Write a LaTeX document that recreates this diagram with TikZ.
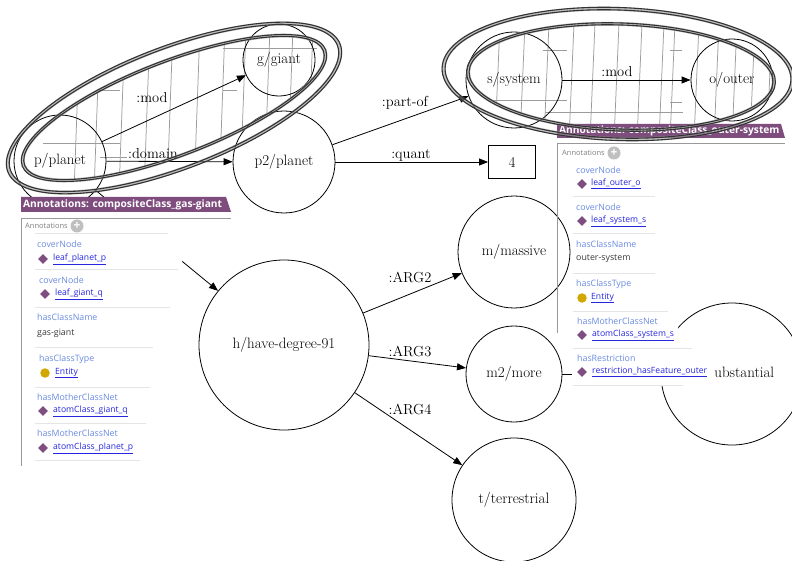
\documentclass[tikz,border=0pt]{standalone}
\usepackage{fontspec}
\newfontfamily\uifont{Open Sans}
\usetikzlibrary{arrows.meta,shapes.geometric}
\definecolor{hdr}{HTML}{7F4C7E}
\definecolor{prop}{HTML}{6A8BE2}
\definecolor{lnk}{HTML}{2626E0}
\definecolor{valc}{HTML}{3A3A3A}
\definecolor{diac}{HTML}{7E4E80}
\definecolor{entc}{HTML}{D2A800}
\definecolor{hatchc}{HTML}{9C9C9C}
\begin{document}
\begin{tikzpicture}[x=1pt,y=-1pt,
  gnode/.style={circle, draw, line width=0.8pt, inner sep=0pt, font=\fontsize{15}{17}\selectfont},
  elabel/.style={inner sep=0pt, font=\fontsize{14.5}{16}\selectfont},
  edge/.style={-{Triangle[length=9pt,width=7pt]}, line width=0.8pt},
  hatch/.style={hatchc, line width=0.75pt},
  ringblur/.style={black!40, line width=4pt, opacity=0.6},
  ringline/.style={black!80, line width=1.1pt},
  ptitle/.style={anchor=west, inner sep=0pt, text=white, font=\uifont\bfseries\fontsize{10.2}{11}\selectfont},
  psmall/.style={anchor=west, inner sep=0pt, text=black!50, font=\uifont\fontsize{7.5}{8}\selectfont},
  pprop/.style={anchor=west, inner sep=0pt, text=prop, font=\uifont\fontsize{8.8}{10}\selectfont},
  plink/.style={anchor=west, inner sep=0pt, text=lnk, font=\uifont\fontsize{8.6}{10}\selectfont},
  pval/.style={anchor=west, inner sep=0pt, text=valc, font=\uifont\fontsize{8.8}{10}\selectfont},
  dia/.style={diamond, fill=diac, minimum size=10pt, inner sep=0pt},
  entdot/.style={circle, fill=entc, minimum size=9.5pt, inner sep=0pt},
  plus/.style={circle, fill=black!25, minimum size=13pt, inner sep=0pt, text=white, font=\uifont\bfseries\fontsize{12}{12}\selectfont},
  sep/.style={black!10, line width=1pt},
  pline/.style={black!40, line width=0.8pt}]
\useasboundingbox (0,0) rectangle (792,561);
\fill[white] (0,0) rectangle (792,561);

% ---- hatching inside the class groupings
\begin{scope}
  \clip[shift={(174,108)}, rotate=21] (0,0) ellipse [x radius=160pt, y radius=47pt];
  \foreach \xx in {77,97,122,147,170,197,222,243,267,290,310}
    \draw[hatch] (\xx+4,0) -- (\xx-4,220);
  \draw[hatch] (223,48) -- (317,48);
  \draw[hatch] (97,90) -- (120,90);
  \draw[hatch] (223,90) -- (237,90);
  \draw[hatch] (43,143) -- (120,143);
  \draw[hatch] (43,182) -- (100,182);
  \draw[hatch] (100,157) -- (127,157);
\end{scope}
\begin{scope}
  \clip[shift={(620,76)}, rotate=-2] (0,0) ellipse [x radius=152pt, y radius=52pt];
  \foreach \xx in {498,523,547,572,593,617,640,662,673,697,717,735,753,770}
    \draw[hatch] (\xx+3,0) -- (\xx-3,140);
  \draw[hatch] (543,50) -- (567,50);
  \draw[hatch] (670,50) -- (682,50);
  \draw[hatch] (493,100) -- (567,100);
  \draw[hatch] (670,102) -- (682,102);
  \draw[hatch] (545,112) -- (683,112);
\end{scope}

% ---- graph nodes
\node[gnode, minimum size=92pt] (p) at (60,161) {p/planet};
\node[gnode, minimum size=72pt] (g) at (279,60) {g/giant};
\node[gnode, minimum size=102pt] (p2) at (284,162) {p2/planet};
\node[draw, line width=0.8pt, minimum width=47pt, minimum height=33pt, font=\fontsize{15}{17}\selectfont] (four) at (512,162) {4};
\node[gnode, minimum size=96pt] (s) at (514,80) {s/system};
\node[gnode, minimum size=82pt] (o) at (732,80) {o/outer};
\node[gnode, minimum size=170pt] (h) at (284,345) {h/have-degree-91};
\node[gnode, minimum size=112pt] (m) at (514,252) {m/massive};
\node[gnode, minimum size=96pt] (m2) at (514,374) {m2/more};
\node[gnode, minimum size=124pt] (t) at (514,500) {t/terrestrial};
\node[gnode, minimum size=142pt] (sub) at (732,374) {s2/substantial};

% ---- connectors
\draw[edge] (p) -- (g);
\draw[edge] (p) -- (p2);
\draw[edge] (p) -- (h);
\draw[edge] (p2) -- (s);
\draw[edge] (p2) -- (four);
\draw[edge] (s) -- (o);
\draw[edge] (h) -- (m);
\draw[edge] (h) -- (m2);
\draw[edge] (h) -- (t);
\draw[edge] (m2) -- (sub);

\node[elabel] (lmod1) at (152,98) {:mod};
\node[elabel] (ldom) at (153,154) {:domain};
\node[elabel] (lpart) at (405,103) {:part-of};
\node[elabel] (lquant) at (411,155) {:quant};
\node[elabel] (lmod2) at (617,72) {:mod};
\node[elabel] (larg2) at (410,277) {:ARG2};
\node[elabel] (larg3) at (410,351) {:ARG3};
\node[elabel] (larg4) at (410,409) {:ARG4};

% ---- left annotation panel
\fill[white] (21,211) -- (231,211) -- (231,234) -- (182,234) -- (182,270) -- (178,270) -- (178,466) -- (21,466) -- cycle;
\fill[hdr] (21,197) -- (226,197) -- (231,212) -- (21,212) -- cycle;
\node[ptitle] (lt) at (23,204.5) {Annotations: compositeClass\_gas-giant};
\draw[pline] (21,218) -- (231,218);
\draw[pline] (21,218) -- (21,466);
\node[psmall] (lann) at (25,226) {Annotations};
\node[plus] (lplus) at (77,226) {+};
\draw[sep] (35,234) -- (168,234);
\node[pprop] (l1p) at (37,244) {coverNode};
\node[dia] (l1d) at (43,259) {};
\node[plink] (l1v) at (53,259) {\underline{leaf\_planet\_p}};
\draw[sep] (35,270) -- (178,270);
\node[pprop] (l2p) at (39,280) {coverNode};
\node[dia] (l2d) at (45,294) {};
\node[plink] (l2v) at (55,294) {\underline{leaf\_giant\_q}};
\draw[sep] (35,307) -- (170,307);
\node[pprop] (l3p) at (37,317) {hasClassName};
\node[pval] (l3v) at (37,333) {gas-giant};
\draw[sep] (35,347) -- (153,347);
\node[pprop] (l4p) at (39,359) {hasClassType};
\node[entdot] (l4d) at (45,373) {};
\node[plink] (l4v) at (55,373) {\underline{Entity}};
\draw[sep] (35,387) -- (150,387);
\node[pprop] (l5p) at (37,397) {hasMotherClassNet};
\node[dia] (l5d) at (43,411) {};
\node[plink] (l5v) at (53,411) {\underline{atomClass\_giant\_q}};
\draw[sep] (35,423) -- (146,423);
\node[pprop] (l6p) at (37,433) {hasMotherClassNet};
\node[dia] (l6d) at (43,448) {};
\node[plink] (l6v) at (53,448) {\underline{atomClass\_planet\_p}};
\draw[sep] (35,460) -- (140,460);

% ---- right annotation panel
\fill[white] (557,137) -- (785,137) -- (785,162) -- (660,162) -- (660,311) -- (678,311) -- (678,348) -- (714,348) -- (714,386) -- (572,386) -- (572,162) -- (557,162) -- cycle;
\fill[hdr] (557,124) -- (781,124) -- (785,138) -- (557,138) -- cycle;
\node[ptitle] (rt) at (559,131) {Annotations: compositeClass\_outer-system};
\draw[pline] (557,143) -- (785,143);
\draw[pline] (557,143) -- (557,333);
\node[psmall] (rann) at (562,153) {Annotations};
\node[plus] (rplus) at (614,153) {+};
\node[pprop] (r1p) at (576,170) {coverNode};
\node[dia] (r1d) at (582,184) {};
\node[plink] (r1v) at (591,184) {\underline{leaf\_outer\_o}};
\draw[sep] (573,197) -- (655,197);
\node[pprop] (r2p) at (576,207) {coverNode};
\node[dia] (r2d) at (582,221) {};
\node[plink] (r2v) at (591,221) {\underline{leaf\_system\_s}};
\draw[sep] (573,234) -- (655,234);
\node[pprop] (r3p) at (576,244) {hasClassName};
\node[pval] (r3v) at (576,259) {outer-system};
\draw[sep] (573,274) -- (655,274);
\node[pprop] (r4p) at (576,284) {hasClassType};
\node[entdot] (r4d) at (582,298) {};
\node[plink] (r4v) at (591,298) {\underline{Entity}};
\draw[sep] (573,311) -- (668,311);
\node[pprop] (r5p) at (577,321) {hasMotherClassNet};
\node[dia] (r5d) at (582,335) {};
\node[plink] (r5v) at (592,335) {\underline{atomClass\_system\_s}};
\draw[sep] (573,348) -- (692,348);
\node[pprop] (r6p) at (577,358) {hasRestriction};
\node[dia] (r6d) at (582,372) {};
\node[plink] (r6v) at (592,372) {\underline{restriction\_hasFeature\_outer}};
\draw[sep] (573,385) -- (683,385);

% ---- sketchy grouping rings
\begin{scope}[shift={(174,108)}, rotate=21]
  \draw[ringblur] (0,0) ellipse [x radius=176.5pt, y radius=60pt];
  \draw[ringline] (0,0) ellipse [x radius=175pt, y radius=59pt];
  \draw[ringline] (0,0) ellipse [x radius=178pt, y radius=61.5pt];
  \draw[ringblur] (0,0) ellipse [x radius=161pt, y radius=47pt];
  \draw[ringline] (0,0) ellipse [x radius=160pt, y radius=46pt];
  \draw[ringline] (0,0) ellipse [x radius=162.5pt, y radius=48pt];
\end{scope}
\begin{scope}[shift={(618,74)}, rotate=-2]
  \draw[ringblur] (0,0) ellipse [x radius=174.5pt, y radius=65pt];
  \draw[ringline] (0,0) ellipse [x radius=173pt, y radius=64pt];
  \draw[ringline] (0,0) ellipse [x radius=176pt, y radius=66.5pt];
\end{scope}
\begin{scope}[shift={(621,77)}, rotate=-2]
  \draw[ringblur] (0,0) ellipse [x radius=153pt, y radius=53pt];
  \draw[ringline] (0,0) ellipse [x radius=152pt, y radius=52pt];
  \draw[ringline] (0,0) ellipse [x radius=154.5pt, y radius=54pt];
\end{scope}
\end{tikzpicture}
\end{document}
